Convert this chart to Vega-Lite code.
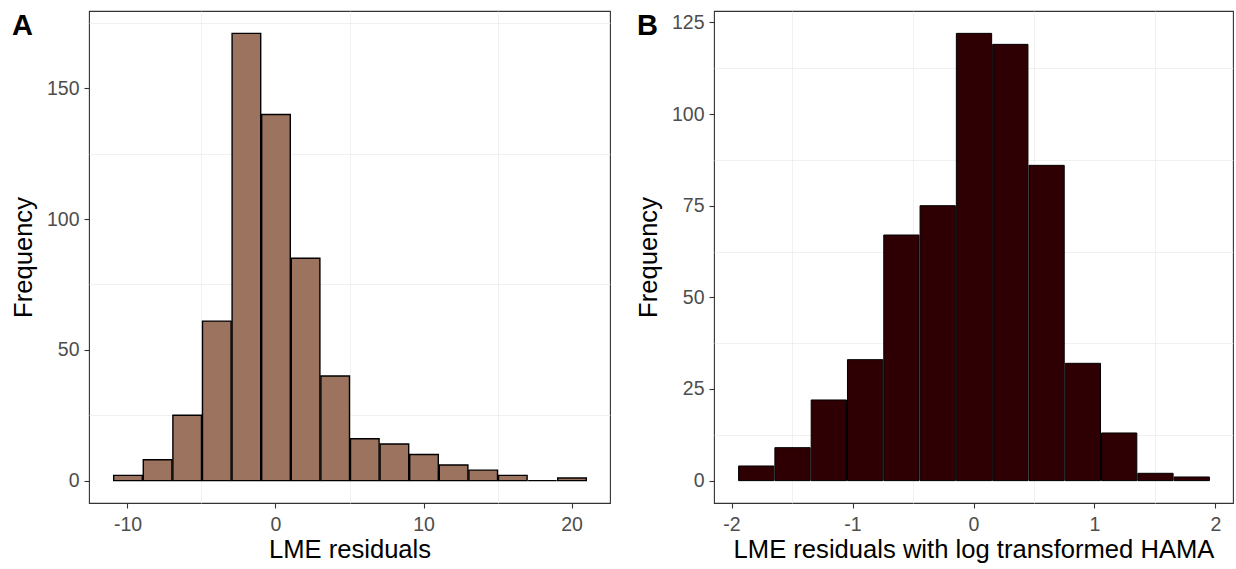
{
  "$schema": "https://vega.github.io/schema/vega-lite/v6.json",
  "padding": {"left": 10, "top": 10, "right": 4, "bottom": 0},
  "background": "white",
  "config": {
    "font": "Liberation Sans",
    "view": {"stroke": "#333333", "strokeWidth": 1.1},
    "axis": {
      "domain": false,
      "grid": true,
      "gridColor": "#EBEBEB",
      "gridWidth": 1.3,
      "tickColor": "#333333",
      "tickSize": 5,
      "tickWidth": 1.1,
      "labelColor": "#4D4D4D",
      "labelFontSize": 19.5,
      "labelPadding": 5,
      "titleFontSize": 25.6,
      "titleFontWeight": "normal",
      "titleColor": "#000000"
    },
    "concat": {"spacing": 24}
  },
  "datasets": {
    "histA": [
      {"bin_start": -11, "bin_end": -9, "count": 2},
      {"bin_start": -9, "bin_end": -7, "count": 8},
      {"bin_start": -7, "bin_end": -5, "count": 25},
      {"bin_start": -5, "bin_end": -3, "count": 61},
      {"bin_start": -3, "bin_end": -1, "count": 171},
      {"bin_start": -1, "bin_end": 1, "count": 140},
      {"bin_start": 1, "bin_end": 3, "count": 85},
      {"bin_start": 3, "bin_end": 5, "count": 40},
      {"bin_start": 5, "bin_end": 7, "count": 16},
      {"bin_start": 7, "bin_end": 9, "count": 14},
      {"bin_start": 9, "bin_end": 11, "count": 10},
      {"bin_start": 11, "bin_end": 13, "count": 6},
      {"bin_start": 13, "bin_end": 15, "count": 4},
      {"bin_start": 15, "bin_end": 17, "count": 2},
      {"bin_start": 17, "bin_end": 19, "count": 0},
      {"bin_start": 19, "bin_end": 21, "count": 1}
    ],
    "histB": [
      {"bin_start": -1.95, "bin_end": -1.65, "count": 4},
      {"bin_start": -1.65, "bin_end": -1.35, "count": 9},
      {"bin_start": -1.35, "bin_end": -1.05, "count": 22},
      {"bin_start": -1.05, "bin_end": -0.75, "count": 33},
      {"bin_start": -0.75, "bin_end": -0.45, "count": 67},
      {"bin_start": -0.45, "bin_end": -0.15, "count": 75},
      {"bin_start": -0.15, "bin_end": 0.15, "count": 122},
      {"bin_start": 0.15, "bin_end": 0.45, "count": 119},
      {"bin_start": 0.45, "bin_end": 0.75, "count": 86},
      {"bin_start": 0.75, "bin_end": 1.05, "count": 32},
      {"bin_start": 1.05, "bin_end": 1.35, "count": 13},
      {"bin_start": 1.35, "bin_end": 1.65, "count": 2},
      {"bin_start": 1.65, "bin_end": 1.95, "count": 1}
    ],
    "labelA": [{"label": "A"}],
    "labelB": [{"label": "B"}]
  },
  "hconcat": [
    {
      "width": 521,
      "height": 492,
      "layer": [
        {
          "data": {"name": "histA"},
          "mark": {"type": "bar", "opacity": 0},
          "encoding": {
            "x": {"field": "bin_start", "type": "quantitative", "bin": {"binned": true}, "scale": {"domain": [-12.6, 22.6], "nice": false, "zero": false},
                  "axis": {"orient": "top", "values": [-5, 5, 15], "labels": false, "ticks": false, "title": null, "gridWidth": 0.7}},
            "x2": {"field": "bin_end"},
            "y": {"field": "count", "type": "quantitative", "scale": {"domain": [-8.55, 179.55], "nice": false, "zero": false},
                  "axis": {"orient": "right", "values": [25, 75, 125, 175], "labels": false, "ticks": false, "title": null, "gridWidth": 0.7}}
          }
        },
        {
          "data": {"name": "histA"},
          "mark": {"type": "bar", "fill": "#9B735E", "stroke": "#000000", "strokeWidth": 1.4},
          "encoding": {
            "x": {"field": "bin_start", "type": "quantitative", "bin": {"binned": true},
                  "axis": {"orient": "bottom", "values": [-10, 0, 10, 20], "title": "LME residuals", "labelExpr": "datum.value + ''", "labelPadding": 7, "titlePadding": 4}},
            "x2": {"field": "bin_end"},
            "y": {"field": "count", "type": "quantitative",
                  "axis": {"orient": "left", "values": [0, 50, 100, 150], "title": "Frequency", "titlePadding": 10}}
          }
        },
        {
          "data": {"name": "labelA"},
          "mark": {"type": "text", "fontSize": 29, "fontWeight": "bold", "color": "#000000", "align": "center", "baseline": "alphabetic"},
          "encoding": {
            "text": {"field": "label"},
            "x": {"datum": -17.09, "type": "quantitative", "axis": null},
            "y": {"datum": 170.4, "type": "quantitative", "axis": null}
          }
        }
      ],
      "resolve": {"axis": {"x": "independent", "y": "independent"}}
    },
    {
      "width": 519,
      "height": 492,
      "layer": [
        {
          "data": {"name": "histB"},
          "mark": {"type": "bar", "opacity": 0},
          "encoding": {
            "x": {"field": "bin_start", "type": "quantitative", "bin": {"binned": true}, "scale": {"domain": [-2.145, 2.145], "nice": false, "zero": false},
                  "axis": {"orient": "top", "values": [-1.5, -0.5, 0.5, 1.5], "labels": false, "ticks": false, "title": null, "gridWidth": 0.7}},
            "x2": {"field": "bin_end"},
            "y": {"field": "count", "type": "quantitative", "scale": {"domain": [-6.1, 128.1], "nice": false, "zero": false},
                  "axis": {"orient": "right", "values": [12.5, 37.5, 62.5, 87.5, 112.5], "labels": false, "ticks": false, "title": null, "gridWidth": 0.7}}
          }
        },
        {
          "data": {"name": "histB"},
          "mark": {"type": "bar", "fill": "#2E0004", "stroke": "#000000", "strokeWidth": 1},
          "encoding": {
            "x": {"field": "bin_start", "type": "quantitative", "bin": {"binned": true},
                  "axis": {"orient": "bottom", "values": [-2, -1, 0, 1, 2], "title": "LME residuals with log transformed HAMA", "labelExpr": "datum.value + ''", "labelPadding": 7, "titlePadding": 4}},
            "x2": {"field": "bin_end"},
            "y": {"field": "count", "type": "quantitative",
                  "axis": {"orient": "left", "values": [0, 25, 50, 75, 100, 125], "title": "Frequency", "titlePadding": 10}}
          }
        },
        {
          "data": {"name": "labelB"},
          "mark": {"type": "text", "fontSize": 29, "fontWeight": "bold", "color": "#000000", "align": "center", "baseline": "alphabetic"},
          "encoding": {
            "text": {"field": "label"},
            "x": {"datum": -2.695, "type": "quantitative", "axis": null},
            "y": {"datum": 121.55, "type": "quantitative", "axis": null}
          }
        }
      ],
      "resolve": {"axis": {"x": "independent", "y": "independent"}}
    }
  ]
}
